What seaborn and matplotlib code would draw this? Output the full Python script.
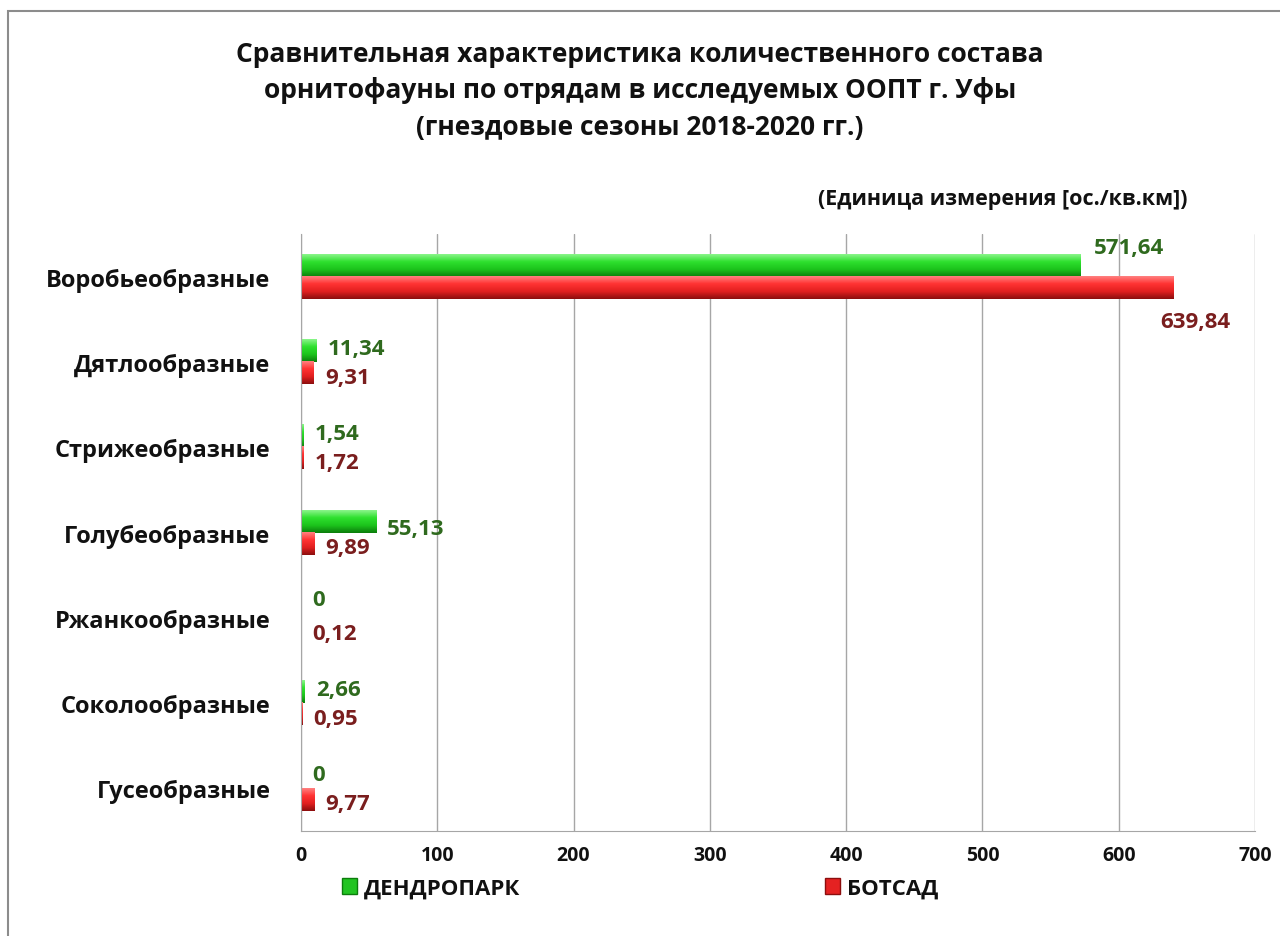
import numpy as np
import pandas as pd
import seaborn as sns
import matplotlib.pyplot as plt
from matplotlib.colors import LinearSegmentedColormap
from matplotlib.patches import Rectangle, Patch

# data
orders = ['Воробьеобразные', 'Дятлообразные', 'Стрижеобразные', 'Голубеобразные',
          'Ржанкообразные', 'Соколообразные', 'Гусеобразные']
dendropark = [571.64, 11.34, 1.54, 55.13, 0, 2.66, 0]
botsad = [639.84, 9.31, 1.72, 9.89, 0.12, 0.95, 9.77]
sites = ['ДЕНДРОПАРК', 'БОТСАД']
x_ticks = [0, 100, 200, 300, 400, 500, 600, 700]

title = ('Сравнительная характеристика количественного состава\n'
         'орнитофауны по отрядам в исследуемых ООПТ г. Уфы\n'
         '(гнездовые сезоны 2018-2020 гг.)')
unit_text = '(Единица измерения [ос./кв.км])'

sns.set_style('white')
plt.rcParams['font.family'] = ['Open Sans', 'DejaVu Sans']
plt.rcParams['font.weight'] = 'bold'
plt.rcParams['text.color'] = '#111111'
plt.rcParams['xtick.color'] = '#111111'
plt.rcParams['ytick.color'] = '#111111'

df = pd.DataFrame({
    'order': orders * 2,
    'value': dendropark + botsad,
    'site': [sites[0]] * len(orders) + [sites[1]] * len(orders),
})

green = '#22c422'
red = '#e52222'
label_cols = ['#2f6a1e', '#7a1e1e']

fig = plt.figure(figsize=(12.8, 9.37), dpi=100)
ax = fig.add_axes([301 / 1280, 1 - 832 / 937, (1255 - 301) / 1280, (832 - 235) / 937])

sns.barplot(data=df, x='value', y='order', hue='site', orient='h',
            palette=[green, red], width=0.52, ax=ax, legend=False,
            saturation=1, edgecolor='none')

ax.set_xlim(0, 700)
ax.set_ylim(len(orders) - 0.5, -0.5)
ax.set_xticks(x_ticks)
ax.set_xlabel('')
ax.set_ylabel('')
ax.grid(axis='x', color='#a6a6a6', linewidth=1)
ax.set_axisbelow(True)
for s in ['top', 'right']:
    ax.spines[s].set_visible(False)
ax.spines['left'].set_color('#a6a6a6')
ax.spines['bottom'].set_color('#a6a6a6')
ax.tick_params(axis='x', length=5, color='#a6a6a6', labelsize=14, pad=5)
ax.tick_params(axis='y', length=0, labelsize=17, pad=22)

# shaded "cylinder" look for each bar
cmaps = [
    LinearSegmentedColormap.from_list('g', ['#8af58a', '#2ee02e', '#1cc41c', '#0c7d0c']),
    LinearSegmentedColormap.from_list('r', ['#ff8080', '#ff3333', '#e22020', '#8c0e0e']),
]
grad = np.linspace(0, 1, 64)[:, None]
for k, cont in enumerate(ax.containers):
    for rect in cont:
        w = rect.get_width()
        if w <= 0:
            continue
        x0, y0, h = rect.get_x(), rect.get_y(), rect.get_height()
        ax.imshow(grad, cmap=cmaps[k], aspect='auto', origin='upper',
                  extent=(x0, x0 + w, y0 + h, y0), clip_path=rect, zorder=rect.get_zorder() + 0.1)
ax.set_xlim(0, 700)
ax.set_ylim(len(orders) - 0.5, -0.5)

# value labels (offsets in points)
offsets = {
    (0, 0): (10, 13, 'left'), (1, 0): (16, -24, 'center'),
    (0, 3): (8, -5, 'left'), (0, 4): (8, 5, 'left'),
}
for k, cont in enumerate(ax.containers):
    vals = dendropark if k == 0 else botsad
    for i, rect in enumerate(cont):
        v = vals[i]
        yc = rect.get_y() + rect.get_height() / 2
        dx, dy, ha = offsets.get((k, i), (8, 2 if k == 0 else -3, 'left'))
        ax.annotate(f'{v:g}'.replace('.', ','), xy=(v, yc), xytext=(dx, dy),
                    textcoords='offset points', ha=ha, va='center',
                    fontsize=16, fontweight='bold', color=label_cols[k])

fig.text(0.5, 1 - 91 / 937, title, ha='center', va='center', fontsize=19,
         fontweight='bold', linespacing=1.45)
fig.text(1188 / 1280, 1 - 200 / 937, unit_text, ha='right', va='center',
         fontsize=15.5, fontweight='bold')

handles = [Patch(facecolor=green, edgecolor='#0c7d0c'), Patch(facecolor=red, edgecolor='#8c0e0e')]
fig.legend(handles, sites, loc='center', bbox_to_anchor=(0.5, 1 - 889 / 937), ncol=2,
           frameon=False, fontsize=16, handlelength=0.7, handleheight=0.7,
           handletextpad=0.3, columnspacing=13.7)

fig.add_artist(Rectangle((8 / 1280, -0.05), 1.1, 1.05 - 12 / 937, transform=fig.transFigure,
                         fill=False, edgecolor='#8c8c8c', linewidth=1.5))

fig.savefig('out.png', dpi=100)
